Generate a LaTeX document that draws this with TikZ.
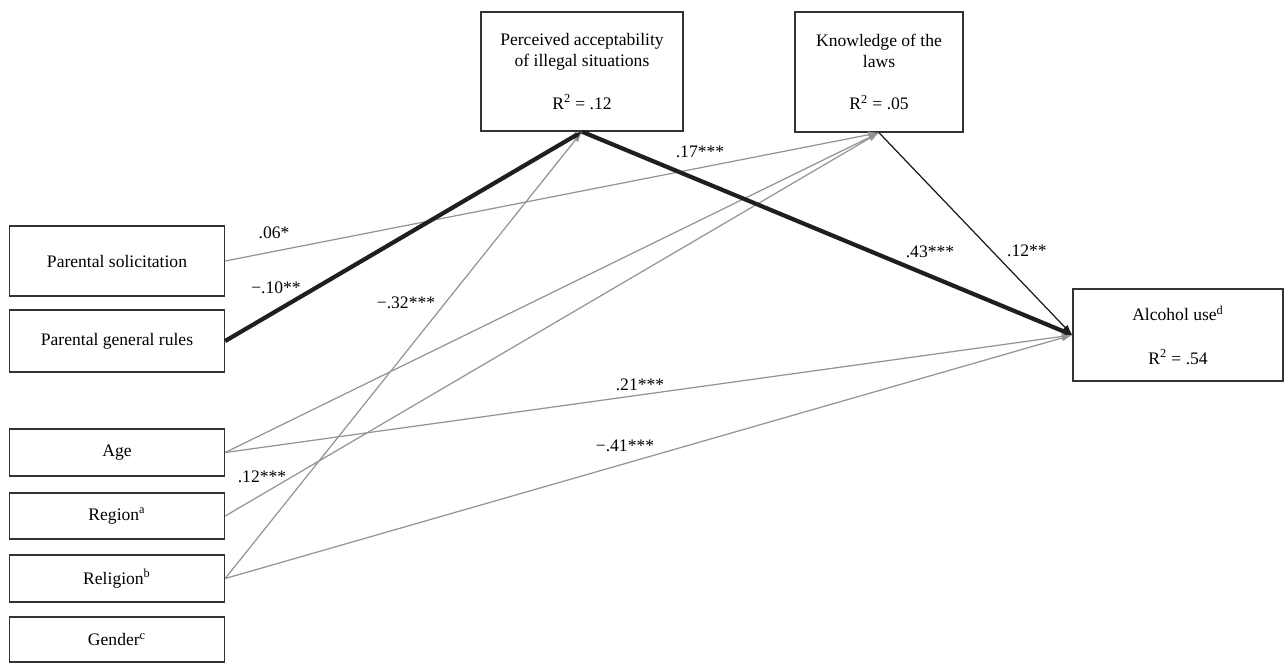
\documentclass[tikz,border=0pt]{standalone}
\usepackage{fontspec}
\setmainfont{Liberation Serif}
\usetikzlibrary{arrows.meta}

\begin{document}
\begin{tikzpicture}[x=0.02cm,y=-0.02cm,
	var/.style={draw=black!80,line width=0.8pt,minimum height=#1,inner sep=0pt,align=center,font=\fontsize{10}{12}\selectfont},
	var/.default=0.94cm,
	coef/.style={font=\fontsize{10}{12}\selectfont,inner sep=1pt},
	grayarr/.style={draw=black!42,line width=0.7pt,-{Latex[length=6pt,width=4pt]}},
	blackarr/.style={draw=black!90,line width=0.7pt,-{Latex[length=6pt,width=4pt]}},
	thickarr/.style={draw=black!88,line width=2.4pt,-{Latex[length=4pt,width=3.6pt]}}]
	\useasboundingbox (0,0) rectangle (1288,664);
	% left column
	\foreach \n/\y/\h/\t in {sol/261/1.4cm/Parental solicitation,rules/341/1.24cm/Parental general rules,
		age/452.5/0.94cm/Age,region/516/0.92cm/Region\textsuperscript{a},
		rel/578.5/0.94cm/Religion\textsuperscript{b},gender/639.5/0.9cm/Gender\textsuperscript{c}}
		\node[var=\h,minimum width=4.3cm] (\n) at (117,\y) {\t};
	% mediators and outcome
	\node[var=2.38cm,minimum width=4.04cm] (perc) at (582,71.5)
		{Perceived acceptability\\of illegal situations\\[12pt]R\textsuperscript{2} = .12};
	\node[var=2.4cm,minimum width=3.36cm] (know) at (879,72)
		{Knowledge of the\\laws\\[12pt]R\textsuperscript{2} = .05};
	\node[var=1.84cm,minimum width=4.2cm] (alc) at (1178,335)
		{Alcohol use\textsuperscript{d}\\[13pt]R\textsuperscript{2} = .54};
	% paths
	\draw[grayarr] (sol.east) -- (know.south);
	\draw[grayarr] (age.east) -- (know.south);
	\draw[grayarr] (region.east) -- (know.south);
	\draw[grayarr] (rel.east) -- (perc.south);
	\draw[grayarr] (age.east) -- (alc.west);
	\draw[grayarr] (rel.east) -- (alc.west);
	\draw[blackarr] (know.south) -- (alc.west);
	\draw[thickarr] (rules.east) -- (perc.south);
	\draw[thickarr] (perc.south) -- (alc.west);
	% coefficients
	\node[coef] (c1) at (274,233) {.06*};
	\node[coef] (c2) at (276,288) {−.10**};
	\node[coef] (c3) at (406,303) {−.32***};
	\node[coef] (c4) at (700,152) {.17***};
	\node[coef] (c5) at (930,252) {.43***};
	\node[coef] (c6) at (1027,251) {.12**};
	\node[coef] (c7) at (640,385) {.21***};
	\node[coef] (c8) at (625,446) {−.41***};
	\node[coef] (c9) at (262,477) {.12***};
\end{tikzpicture}
\end{document}
